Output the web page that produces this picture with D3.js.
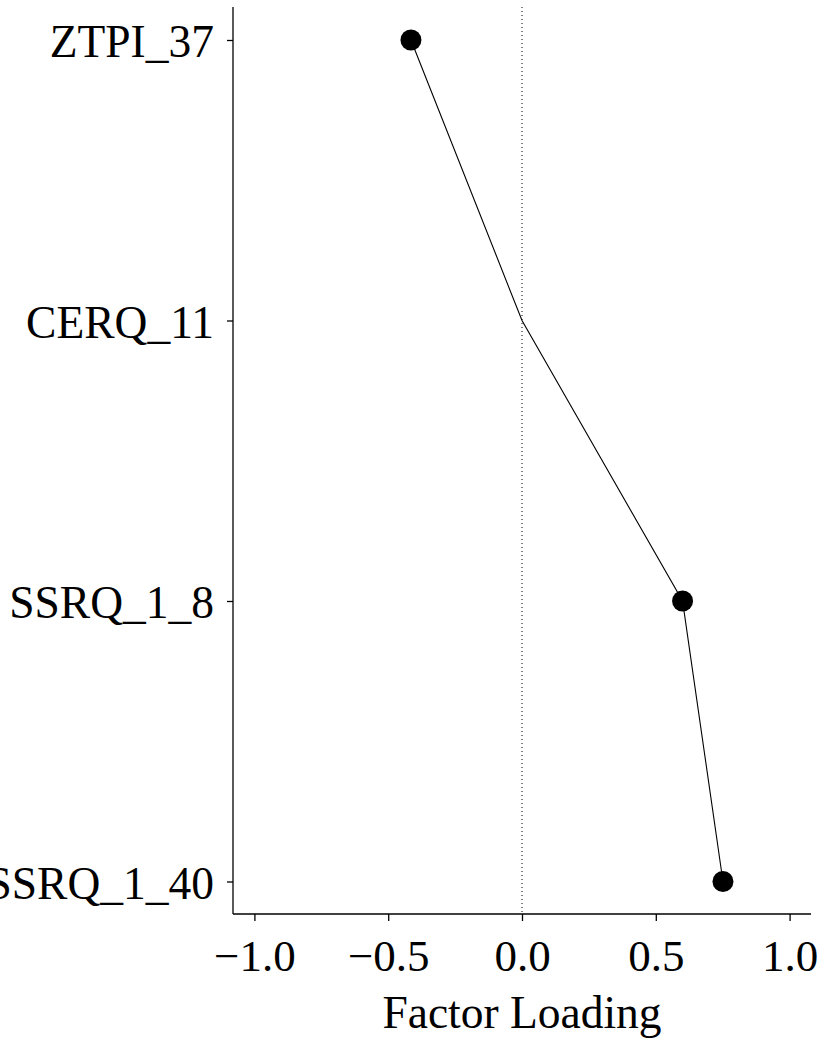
<!DOCTYPE html>
<html>
<head>
<meta charset="utf-8">
<script src="https://cdn.jsdelivr.net/npm/d3@7"></script>
<style>
  body { margin: 0; background: #fff; }
  svg { display: block; }
  text { font-family: "Liberation Serif", "DejaVu Serif", serif; fill: #000; }
</style>
</head>
<body>
<script>
// Items shown on the y axis, top to bottom
var items = ["ZTPI_37", "CERQ_11", "SSRQ_1_8", "SSRQ_1_40"];
// Factor loadings
var loadings = [-0.415, 0.0, 0.60, 0.751];
// CERQ_11 has no marker in the original, the line just passes through it
var showPoint = [true, false, true, true];
var xTicks = [-1.0, -0.5, 0.0, 0.5, 1.0];

var outerWidth = 825,
    outerHeight = 1043;

var plot = {left: 233, right: 811, top: 7, bottom: 914};

var svg = d3.select("body").append("svg")
    .attr("width", outerWidth)
    .attr("height", outerHeight);

var xScale = d3.scaleLinear()
    .domain([-1.08, 1.08])
    .range([plot.left, plot.right]);

var yScale = d3.scalePoint()
    .domain(items)
    .range([40, 881.5]);

// dotted reference line at zero
svg.append("line")
    .attr("x1", xScale(0)).attr("x2", xScale(0))
    .attr("y1", plot.top).attr("y2", plot.bottom)
    .attr("stroke", "#000")
    .attr("stroke-width", 1)
    .attr("stroke-dasharray", "1,3");

// x axis
var xAxis = d3.axisBottom(xScale)
    .tickValues(xTicks)
    .tickSize(7)
    .tickPadding(12)
    .tickFormat(function(d) { return d3.format(".1f")(d).replace("-", "\u2212"); });

var gx = svg.append("g")
    .attr("transform", "translate(0," + plot.bottom + ")")
    .call(xAxis);
gx.select(".domain").remove();
gx.append("line")
    .attr("x1", plot.left).attr("x2", plot.right)
    .attr("stroke", "#000").attr("stroke-width", 1.3);
gx.selectAll(".tick line").attr("stroke", "#000").attr("stroke-width", 1.3);
gx.selectAll(".tick text")
    .attr("font-family", "Liberation Serif")
    .style("font-size", "45px")
    .attr("dy", null)
    .attr("y", 57);

// y axis
var yAxis = d3.axisLeft(yScale)
    .tickSize(6)
    .tickPadding(13);

var gy = svg.append("g")
    .attr("transform", "translate(" + plot.left + ",0)")
    .call(yAxis);
gy.select(".domain").remove();
gy.append("line")
    .attr("y1", plot.top).attr("y2", plot.bottom)
    .attr("stroke", "#000").attr("stroke-width", 1.3);
gy.selectAll(".tick line").attr("stroke", "#000").attr("stroke-width", 1.3);
gy.selectAll(".tick text")
    .attr("font-family", "Liberation Serif")
    .style("font-size", "45.5px")
    .attr("dy", "0.37em");

// axis title
svg.append("text")
    .attr("x", xScale(0))
    .attr("y", 1028)
    .attr("text-anchor", "middle")
    .style("font-size", "45.5px")
    .text("Factor Loading");

// connecting line
var data = items.map(function(d, i) {
  return {item: d, value: loadings[i], show: showPoint[i]};
});

var line = d3.line()
    .x(function(d) { return xScale(d.value); })
    .y(function(d) { return yScale(d.item); });

svg.append("path")
    .datum(data)
    .attr("d", line)
    .attr("fill", "none")
    .attr("stroke", "#000")
    .attr("stroke-width", 1.1);

svg.selectAll(".dot")
    .data(data.filter(function(d) { return d.show; }))
    .enter().append("circle")
    .attr("class", "dot")
    .attr("cx", function(d) { return xScale(d.value); })
    .attr("cy", function(d) { return yScale(d.item); })
    .attr("r", 10.5)
    .attr("fill", "#000");
</script>
</body>
</html>
